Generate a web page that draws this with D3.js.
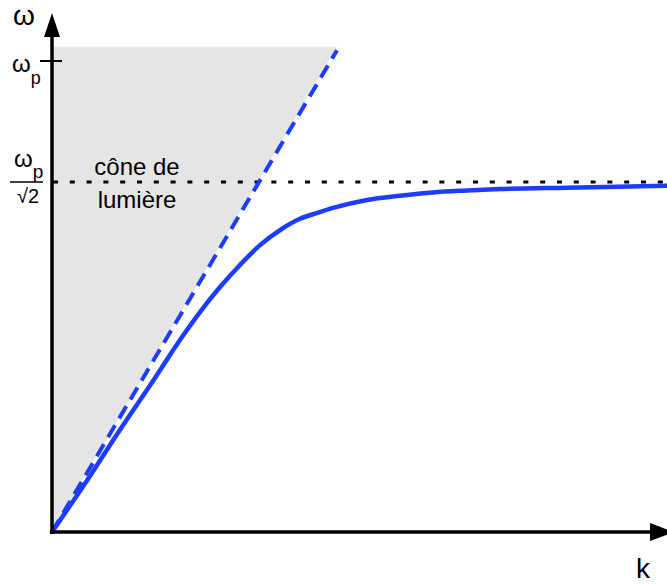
<!DOCTYPE html>
<html>
<head>
<meta charset="utf-8">
<script src="https://cdn.jsdelivr.net/npm/d3@7"></script>
<style>
    html, body { margin: 0; padding: 0; background: #fff; }
    svg { display: block; font-family: "Liberation Sans", Arial, sans-serif; }
</style>
</head>
<body>
<div id="chart"></div>
<script>
// dispersion curve (k, omega / omega_p)
const curveK = [0, 0.34, 0.68, 1.03, 1.30, 1.48, 1.68, 1.88, 2.08, 2.28, 2.48, 2.66, 2.81, 3.15, 3.48, 3.81, 4.15, 4.48, 5.15, 6.15];
const curveW = [0, 0.106, 0.217, 0.327, 0.414, 0.467, 0.520, 0.567, 0.609, 0.641, 0.665, 0.678, 0.688, 0.705, 0.714, 0.721, 0.725, 0.728, 0.731, 0.735];
const lightLineK = [0, 2.85];
const lightLineW = [0, 1.023];
const coneK = [0, 0, 2.85];
const coneW = [0, 1.03, 1.03];
const omegaP = 1;
const asymptote = 0.743;
const kMax = 6.15;

const width = 667, height = 584;
const BLUE = '#1c3cff';

const svg = d3.select('#chart').append('svg')
    .attr('width', width)
    .attr('height', height);

const x = d3.scaleLinear().domain([0, kMax]).range([52, 667]);
const y = d3.scaleLinear().domain([0, 1]).range([532, 61]);

// light cone (grey)
const cone = coneK.map((k, i) => [x(k), y(coneW[i])]);
svg.append('polygon')
    .attr('points', cone.map(p => p.join(',')).join(' '))
    .attr('fill', '#e5e5e5');

// asymptote omega_p / sqrt(2)
svg.append('line')
    .attr('x1', 53).attr('x2', width)
    .attr('y1', y(asymptote)).attr('y2', y(asymptote))
    .attr('stroke', '#000')
    .attr('stroke-width', 3)
    .attr('stroke-dasharray', '5,11.8');

// light line
svg.append('line')
    .attr('x1', x(lightLineK[0])).attr('y1', y(lightLineW[0]))
    .attr('x2', x(lightLineK[1])).attr('y2', y(lightLineW[1]))
    .attr('stroke', BLUE)
    .attr('stroke-width', 4)
    .attr('stroke-dasharray', '14,8');

// dispersion curve
const line = d3.line()
    .x(d => x(d[0]))
    .y(d => y(d[1]))
    .curve(d3.curveMonotoneX);
svg.append('path')
    .datum(curveK.map((k, i) => [k, curveW[i]]))
    .attr('d', line)
    .attr('fill', 'none')
    .attr('stroke', BLUE)
    .attr('stroke-width', 4.5)
    .attr('stroke-linecap', 'round');

// axes with arrows
const x0 = x(0), y0 = y(0);
svg.append('line')
    .attr('x1', x0).attr('x2', x0)
    .attr('y1', y0 + 2).attr('y2', 37)
    .attr('stroke', '#000').attr('stroke-width', 3.5);
svg.append('polygon')
    .attr('points', `${x0 - 8},37 ${x0 + 8},37 ${x0},13`)
    .attr('fill', '#000');
svg.append('line')
    .attr('x1', x0 - 2).attr('x2', 650)
    .attr('y1', y0).attr('y2', y0)
    .attr('stroke', '#000').attr('stroke-width', 3.5);
svg.append('polygon')
    .attr('points', `650,${y0 - 9} 650,${y0 + 9} 674,${y0}`)
    .attr('fill', '#000');

// omega_p tick
svg.append('line')
    .attr('x1', 40).attr('x2', 62)
    .attr('y1', y(omegaP)).attr('y2', y(omegaP))
    .attr('stroke', '#000').attr('stroke-width', 2);

// labels
svg.append('text').attr('x', 13).attr('y', 25)
    .style('font-size', '28px').text('ω');
svg.append('text').attr('x', 636).attr('y', 578)
    .style('font-size', '28px').text('k');

const wp = svg.append('text').attr('x', 12).attr('y', 72).style('font-size', '24px');
wp.append('tspan').text('ω');
wp.append('tspan').attr('dy', 12).style('font-size', '18px').text('p');

// omega_p / sqrt(2)
const frac = svg.append('text').attr('x', 14).attr('y', 167).style('font-size', '24px');
frac.append('tspan').text('ω');
frac.append('tspan').attr('dy', 11).style('font-size', '19px').text('p');
svg.append('line')
    .attr('x1', 10).attr('x2', 43)
    .attr('y1', y(asymptote)).attr('y2', y(asymptote))
    .attr('stroke', '#000').attr('stroke-width', 1.5);
svg.append('text').attr('x', 17).attr('y', 203)
    .style('font-size', '20px').text('√2');

svg.append('text').attr('x', 137).attr('y', 175)
    .attr('text-anchor', 'middle').style('font-size', '24px').text('cône de');
svg.append('text').attr('x', 137).attr('y', 208)
    .attr('text-anchor', 'middle').style('font-size', '24px').text('lumière');
</script>
</body>
</html>
